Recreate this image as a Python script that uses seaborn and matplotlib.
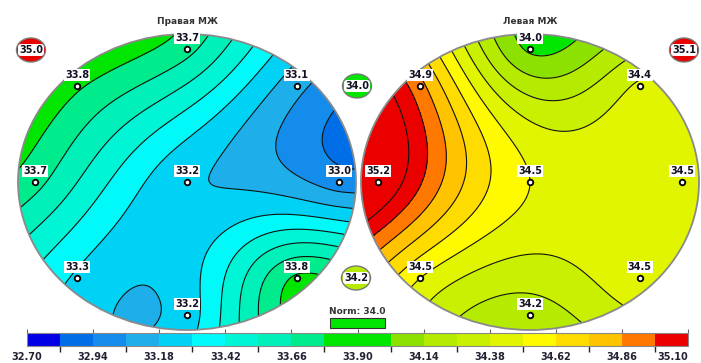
import numpy as np
import matplotlib
matplotlib.use("Agg")
import matplotlib.pyplot as plt
from matplotlib.colors import ListedColormap, BoundaryNorm
from matplotlib.patches import Ellipse, Rectangle
from matplotlib.cm import ScalarMappable
import seaborn as sns

# sensor readings (shown rounded to 0.1), order: top, top-left, top-right,
# left, centre, right, bottom-left, bottom-right, bottom
right_gland = [33.7, 33.8, 33.1, 33.7, 33.2, 33.0, 33.28, 33.8, 33.24]
left_gland = [34.0, 34.9, 34.4, 35.24, 34.5, 34.46, 34.5, 34.46, 34.2]
gland_titles = ["Правая МЖ", "Левая МЖ"]
skin_values = [35.0, 35.1]
nipple_values = [34.0, 34.2]
norm_value = 34.0

scale_min, scale_max = 32.70, 35.10
n_bins = 20
n_ticks = 11
bin_colors = ["#0000e6", "#006ee6", "#148ceb", "#1eafeb", "#00d2f5",
              "#00fafa", "#00f5d7", "#00f0b9", "#00eb8c", "#00e600",
              "#00e600", "#8ce100", "#b4eb00", "#c8f000", "#e1f500",
              "#fffa00", "#ffdc00", "#ffc300", "#ff7800", "#eb0000"]

# sensor layout on a unit circle
sensor_uv = np.array([(0, 0.9), (-0.65, 0.65), (0.65, 0.65), (-0.9, 0), (0, 0),
                      (0.9, 0), (-0.65, -0.65), (0.65, -0.65), (0, -0.9)])


def tps_field(pts, vals, gu, gv):
    """Thin plate spline through the sensor readings."""
    n = len(pts)
    d = np.linalg.norm(pts[:, None, :] - pts[None, :, :], axis=2)
    with np.errstate(divide="ignore", invalid="ignore"):
        K = np.where(d > 0, d ** 2 * np.log(d), 0.0)
    P = np.hstack([np.ones((n, 1)), pts])
    A = np.block([[K, P], [P.T, np.zeros((3, 3))]])
    b = np.concatenate([vals, np.zeros(3)])
    sol = np.linalg.solve(A, b)
    w, a = sol[:n], sol[n:]
    z = a[0] + a[1] * gu + a[2] * gv
    for (pu, pv), wi in zip(pts, w):
        r = np.hypot(gu - pu, gv - pv)
        with np.errstate(divide="ignore", invalid="ignore"):
            z = z + wi * np.where(r > 0, r ** 2 * np.log(r), 0.0)
    return z


sns.set_theme(style="white")
plt.rcParams["font.family"] = ["DejaVu Sans"]

cmap = ListedColormap(sns.color_palette(bin_colors))
cmap.set_under(bin_colors[0])
cmap.set_over(bin_colors[-1])
levels = np.linspace(scale_min, scale_max, n_bins + 1)
norm = BoundaryNorm(levels, cmap.N)

fig = plt.figure(figsize=(7.01, 3.63), dpi=100)
ax = fig.add_axes([0, 0, 1, 1])
ax.set_xlim(0, 701)
ax.set_ylim(363, 0)
ax.axis("off")

centers = [(187, 182), (530, 182)]
rx, ry = 169, 148
g = np.linspace(-1.03, 1.03, 401)
GU, GV = np.meshgrid(g, g)

for (cx, cy), vals, title in zip(centers, [right_gland, left_gland], gland_titles):
    Z = tps_field(sensor_uv, np.array(vals, float), GU, GV)
    X = cx + rx * GU
    Y = cy - ry * GV
    clip = Ellipse((cx, cy), 2 * rx, 2 * ry, transform=ax.transData)
    cf = ax.contourf(X, Y, Z, levels=levels, cmap=cmap, norm=norm, extend="both")
    cf.set_clip_path(clip)
    cl = ax.contour(X, Y, Z, levels=levels, colors="#111111", linewidths=0.8)
    cl.set_clip_path(clip)
    ax.add_patch(Ellipse((cx, cy), 2 * rx, 2 * ry, fill=False, ec="#8a8a8a", lw=1.3, zorder=4))

    px = cx + rx * sensor_uv[:, 0]
    py = cy - ry * sensor_uv[:, 1]
    ax.scatter(px, py, s=16, facecolor="white", edgecolor="black", linewidths=1.3, zorder=6)
    for x, y, v in zip(px, py, vals):
        ax.text(x, y - 11, f"{v:.1f}", ha="center", va="center", fontsize=7,
                fontweight="bold", color="#111122", zorder=7,
                bbox=dict(boxstyle="square,pad=0.12", fc="white", ec="none"))
    ax.text(cx, 22, title, ha="center", va="center", fontsize=6.5,
            fontweight="bold", color="#333333")

# badges: skin reference at the corners, nipples between the glands
badge_xy = [(31, 50), (684, 50), (357, 86), (356, 278)]
for (bx, by), v in zip(badge_xy, skin_values + nipple_values):
    ax.add_patch(Ellipse((bx, by), 29, 24, fc=cmap(norm(v)), ec="#7a7a7a", lw=1.0, zorder=5))
    ax.text(bx, by, f"{v:.1f}", ha="center", va="center", fontsize=7,
            fontweight="bold", color="#111122", zorder=6,
            bbox=dict(boxstyle="round,pad=0.1,rounding_size=0.3", fc="white", ec="none"))

ax.text(357, 312, f"Norm: {norm_value:.1f}", ha="center", va="center",
        fontsize=6.5, fontweight="bold", color="#333333")
ax.add_patch(Rectangle((330, 318), 55, 10, fc=cmap(norm(norm_value)), ec="#333333", lw=0.8))

# colour scale
tick_vals = np.linspace(scale_min, scale_max, n_ticks)
cax = fig.add_axes([27 / 701, (363 - 346) / 363, 661 / 701, 13 / 363])
cb = fig.colorbar(ScalarMappable(norm=norm, cmap=cmap), cax=cax,
                  orientation="horizontal", ticks=tick_vals)
cb.ax.set_xticklabels([f"{t:.2f}" for t in tick_vals])
cb.outline.set_edgecolor("#888888")
cb.outline.set_linewidth(0.8)
cax.tick_params(axis="x", top=True, bottom=False, labeltop=False, labelbottom=True,
                length=3, width=0.8, color="#666666", pad=1.5, labelsize=7)
for lab in cax.get_xticklabels():
    lab.set_fontweight("bold")
    lab.set_color("#222233")
# keep the last label inside the picture
cax.get_xticklabels()[-1].set_horizontalalignment("right")
cax.get_xticklabels()[-1].set_x(scale_max + 0.035)

fig.savefig("out.png", dpi=100)
